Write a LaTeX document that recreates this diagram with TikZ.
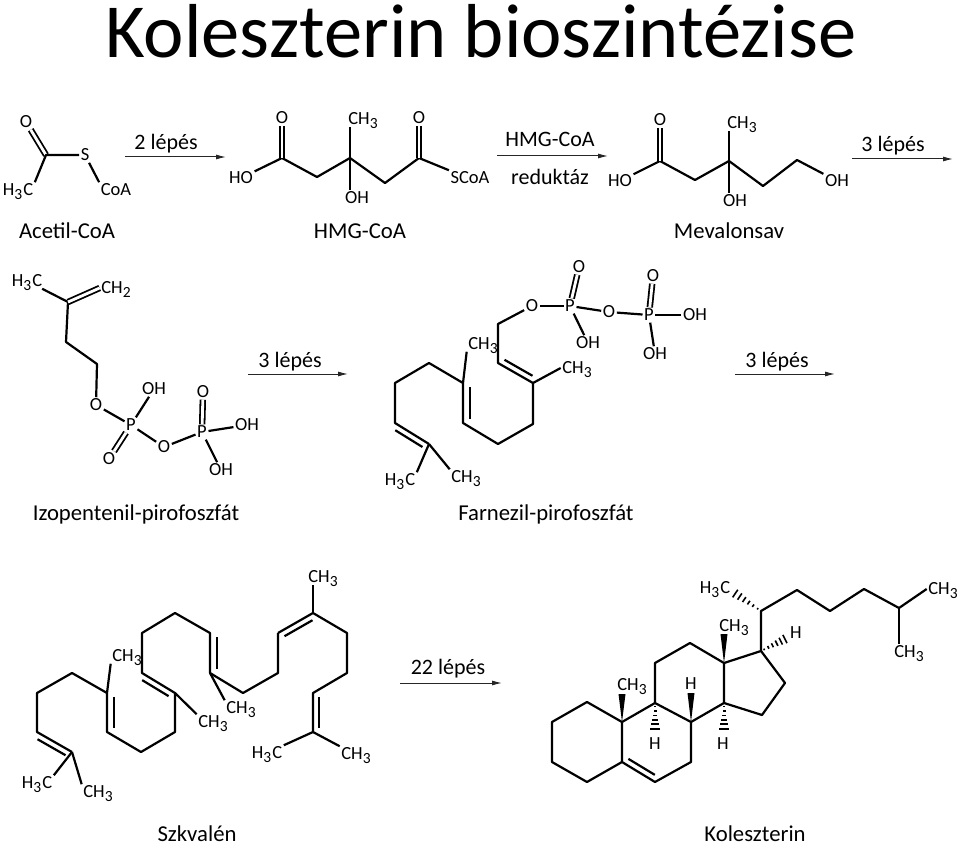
\documentclass[tikz,border=0pt]{standalone}
\usepackage{fontspec}
\usepackage{tikz}
\usetikzlibrary{calc,arrows.meta}
\setmainfont{Carlito}
\newcommand{\idx}[1]{\smash{\raisebox{-.4ex}{\fontsize{15.5}{15.5}\selectfont #1}}}
\newcommand{\innerbond}[3]{\draw[bond] ($(#1)!.1!(#2)!#3pt!90:(#2)$) -- ($(#1)!.9!(#2)!#3pt!90:(#2)$);}
\newcommand{\wedgebond}[2]{\fill ($(#2)!3.5pt!90:(#1)$) -- (#1) -- ($(#2)!3.5pt!-90:(#1)$) -- cycle;}
\newcommand{\hashbond}[2]{\foreach \t/\w in {.12/.8,.28/1.5,.44/2.2,.6/3,.76/3.8,.92/4.6}
	\draw[line width=1.6pt] ($(#1)!\t!(#2)!\w pt!90:(#2)$) -- ($(#1)!\t!(#2)!\w pt!-90:(#2)$);}
\tikzstyle{atom} = [inner sep=1.5pt, font=\fontsize{18.5}{18.5}\selectfont]
\tikzstyle{caption} = [inner sep=0pt, font=\fontsize{22.7}{22.7}\selectfont]
\tikzstyle{steplabel} = [inner sep=0pt, font=\fontsize{22}{22}\selectfont]
\tikzstyle{headline} = [inner sep=0pt, font=\fontsize{76.5}{76.5}\selectfont]
\tikzstyle{bond} = [line width=2.2pt, line join=round]
\tikzstyle{dbond} = [line width=1.8pt, double, double distance=2.8pt]
\tikzstyle{reaction} = [line width=1pt, draw=black!85, -{Latex[length=10pt,width=5pt]}]

\begin{document}
\begin{tikzpicture}[x=1pt,y=-1pt]
	\useasboundingbox (0,0) rectangle (959,845);
	\node[headline](title) at (481,31) {Koleszterin bioszintézise};

	\coordinate (acC) at (46,155);
	\node[atom](acO) at (26,122) {O};
	\node[atom](acS) at (85,155) {S};
	\node[atom](acM) at (18,190) {H\idx{3}\kern1pt C};
	\node[atom](acK) at (116,190) {CoA};
	\draw[dbond] (acC) -- (acO);
	\draw[bond] (acM.north east) -- (acC) -- (acS);
	\draw[bond] (acS) -- (acK.north west);
	\node[caption](acName) at (67,231) {Acetil-CoA};

	\coordinate (r1a) at (125,157);
	\coordinate (r1b) at (226,157);
	\draw[reaction] (r1a) -- (r1b);
	\node[steplabel](r1t) at (166,144) {2 lépés};

	\foreach \n/\x/\y in {hgA/282/158,hgB/317/177,hgC/350/158,hgD/385/183,hgE/419/158}
		\coordinate (\n) at (\x,\y);
	\node[atom](hgHO) at (241,178) {HO};
	\node[atom](hgO) at (282,118) {O};
	\node[atom](hgM) at (363,119) {CH\idx{3}};
	\node[atom](hgP) at (419,118) {O};
	\node[atom](hgOH) at (357,198) {OH};
	\node[atom](hgK) at (470,178) {SCoA};
	\draw[bond] (hgHO) -- (hgA) -- (hgB) -- (hgC) -- (hgD) -- (hgE) -- (hgK.north west);
	\draw[dbond] (hgA) -- (hgO);
	\draw[dbond] (hgE) -- (hgP);
	\draw[bond] (hgC) -- (hgM.south -| hgC);
	\draw[bond] (hgC) -- (hgOH.north -| hgC);
	\node[caption](hgName) at (360,231) {HMG-CoA};

	\coordinate (r2a) at (497,156);
	\coordinate (r2b) at (608,156);
	\draw[reaction] (r2a) -- (r2b);
	\node[steplabel](r2t) at (550,139) {HMG-CoA};
	\node[steplabel](r2u) at (550,177) {reduktáz};

	\foreach \n/\x/\y in {mvA/660/161,mvB/695/180,mvC/729/161,mvD/763/186,mvE/797/160}
		\coordinate (\n) at (\x,\y);
	\node[atom](mvHO) at (620,181) {HO};
	\node[atom](mvO) at (660,120) {O};
	\node[atom](mvM) at (742,123) {CH\idx{3}};
	\node[atom](mvOH) at (735,201) {OH};
	\node[atom](mvR) at (837,181) {OH};
	\draw[bond] (mvHO) -- (mvA) -- (mvB) -- (mvC) -- (mvD) -- (mvE) -- (mvR);
	\draw[dbond] (mvA) -- (mvO);
	\draw[bond] (mvC) -- (mvM.south -| mvC);
	\draw[bond] (mvC) -- (mvOH.north -| mvC);
	\node[caption](mvName) at (729,231) {Mevalonsav};

	\coordinate (r3a) at (852,159);
	\coordinate (r3b) at (953,159);
	\draw[reaction] (r3a) -- (r3b);
	\node[steplabel](r3t) at (893,146) {3 lépés};

	\foreach \n/\x/\y in {ipA/68/302,ipB/66/342,ipC/97/364}
		\coordinate (\n) at (\x,\y);
	\node[atom](ipM) at (27,281) {H\idx{3}\kern1pt C};
	\node[atom](ipE) at (116,288) {CH\idx{2}};
	\node[atom](ipO) at (96,405) {O};
	\node[atom](ipP) at (131,425) {P};
	\node[atom](ipOH) at (154,389) {OH};
	\node[atom](ipQ) at (109,459) {O};
	\node[atom](ipR) at (164,447) {O};
	\node[atom](ipS) at (202,432) {P};
	\node[atom](ipT) at (203,392) {O};
	\node[atom](ipU) at (247,425) {OH};
	\node[atom](ipV) at (221,470) {OH};
	\draw[bond] (ipM) -- (ipA) -- (ipB) -- (ipC) -- (ipO);
	\draw[dbond] (ipA) -- (ipE.west);
	\draw[bond] (ipO) -- (ipP);
	\draw[bond] (ipP) -- (ipOH);
	\draw[dbond] (ipP) -- (ipQ);
	\draw[bond] (ipP) -- (ipR);
	\draw[bond] (ipR) -- (ipS);
	\draw[dbond] (ipS) -- (ipT);
	\draw[bond] (ipS) -- (ipU);
	\draw[bond] (ipS) -- (ipV);
	\node[caption](ipName) at (136,514) {Izopentenil-pirofoszfát};

	\coordinate (r4a) at (248,374);
	\coordinate (r4b) at (348,374);
	\draw[reaction] (r4a) -- (r4b);
	\node[steplabel](r4t) at (290,362) {3 lépés};

	\foreach \n/\x/\y in {faA/498/324,faB/498/363,faC/533/383,faD/533/424,faE/498/444,faF/463/423,faG/463/383,faH/429/363,faI/395/383,faJ/395/423,faK/429/444}
		\coordinate (\n) at (\x,\y);
	\node[atom](faO) at (532,306) {O};
	\node[atom](faP) at (570,306) {P};
	\node[atom](faT) at (579,267) {O};
	\node[atom](faOH) at (588,343) {OH};
	\node[atom](faQ) at (609,312) {O};
	\node[atom](faS) at (649,315) {P};
	\node[atom](faU) at (653,276) {O};
	\node[atom](faR) at (695,315) {OH};
	\node[atom](faV) at (655,354) {OH};
	\node[atom](faM) at (483,344) {CH\idx{3}};
	\node[atom](faN) at (577,368) {CH\idx{3}};
	\node[atom](faX) at (400,480) {H\idx{3}\kern1pt C};
	\node[atom](faY) at (466,477) {CH\idx{3}};
	\draw[bond] (faO) -- (faA) -- (faB) -- (faC) -- (faD) -- (faE) -- (faF) -- (faG) -- (faH) -- (faI) -- (faJ) -- (faK);
	\innerbond{faB}{faC}{6}
	\innerbond{faG}{faF}{7}
	\innerbond{faJ}{faK}{-6}
	\draw[bond] (faO) -- (faP);
	\draw[dbond] (faP) -- (faT);
	\draw[bond] (faP) -- (faOH);
	\draw[bond] (faP) -- (faQ);
	\draw[bond] (faQ) -- (faS);
	\draw[dbond] (faS) -- (faU);
	\draw[bond] (faS) -- (faR);
	\draw[bond] (faS) -- (faV);
	\draw[bond] (faG) -- (faM.south west);
	\draw[bond] (faC) -- (faN.west);
	\draw[bond] (faK) -- (faX.north east);
	\draw[bond] (faK) -- (faY.north west);
	\node[caption](faName) at (546,514) {Farnezil-pirofoszfát};

	\coordinate (r5a) at (735,374);
	\coordinate (r5b) at (835,374);
	\draw[reaction] (r5a) -- (r5b);
	\node[steplabel](r5t) at (777,362) {3 lépés};

	\foreach \n/\x/\y in {sqA/313/613,sqB/347/633,sqC/347/673,sqD/313/693,sqE/313/732,sqF/278/633,sqG/278/673,sqH/243/693,sqI/210/673,sqJ/210/633,sqK/175/613,sqL/142/633,sqM/142/673,sqN/175/693,sqO/175/732,sqP/141/752,sqQ/107/732,sqR/107/693,sqS/72/673,sqT/37/693,sqU/37/732,sqV/72/752}
		\coordinate (\n) at (\x,\y);
	\node[atom](sqMa) at (323,577) {CH\idx{3}};
	\node[atom](sqMb) at (356,754) {CH\idx{3}};
	\node[atom](sqMc) at (267,753) {H\idx{3}\kern1pt C};
	\node[atom](sqMd) at (241,708) {CH\idx{3}};
	\node[atom](sqMe) at (213,722) {CH\idx{3}};
	\node[atom](sqMf) at (127,656) {CH\idx{3}};
	\node[atom](sqMg) at (37,783) {H\idx{3}\kern1pt C};
	\node[atom](sqMh) at (98,792) {CH\idx{3}};
	\draw[bond] (sqF) -- (sqA) -- (sqB) -- (sqC) -- (sqD) -- (sqE);
	\draw[bond] (sqF) -- (sqG) -- (sqH) -- (sqI) -- (sqJ) -- (sqK) -- (sqL) -- (sqM) -- (sqN) -- (sqO) -- (sqP) -- (sqQ) -- (sqR) -- (sqS) -- (sqT) -- (sqU) -- (sqV);
	\innerbond{sqA}{sqF}{6}
	\innerbond{sqD}{sqE}{6}
	\innerbond{sqJ}{sqI}{7}
	\innerbond{sqM}{sqN}{-6}
	\innerbond{sqR}{sqQ}{7}
	\innerbond{sqU}{sqV}{-6}
	\draw[bond] (sqA) -- (sqMa.south -| sqA);
	\draw[bond] (sqE) -- (sqMb.north west);
	\draw[bond] (sqE) -- (sqMc.north east);
	\draw[bond] (sqI) -- (sqMd.north west);
	\draw[bond] (sqN) -- (sqMe.north west);
	\draw[bond] (sqR) -- (sqMf.south west);
	\draw[bond] (sqV) -- (sqMg.north east);
	\draw[bond] (sqV) -- (sqMh.north west);
	\node[caption](sqName) at (197,834) {Szkvalén};

	\coordinate (r6a) at (400,683);
	\coordinate (r6b) at (502,683);
	\draw[reaction] (r6a) -- (r6b);
	\node[steplabel](r6t) at (448,669) {22 lépés};

	\foreach \n/\x/\y in {chA/552/722,chB/587/702,chC/622/722,chD/622/762,chE/587/782,chF/552/762,chG/655/703,chH/691/722,chI/691/762,chJ/655/782,chK/655/663,chL/690/643,chM/724/663,chN/724/703,chO/761/651,chP/785/683,chQ/762/715,chR/761/611,chS/797/590,chT/830/611,chU/864/589,chV/899/608}
		\coordinate (\n) at (\x,\y);
	\foreach \n/\x/\y in {wgA/622/694,wgB/724/634,wgC/691/693,hsA/655/731,hsB/724/731,hsC/733/592,hsD/787/638}
		\coordinate (\n) at (\x,\y);
	\node[atom](chMa) at (715,588) {H\idx{3}\kern1pt C};
	\node[atom](chMb) at (943,589) {CH\idx{3}};
	\node[atom](chMc) at (909,652) {CH\idx{3}};
	\node[atom](chMd) at (734,626) {CH\idx{3}};
	\node[atom](chMe) at (632,685) {CH\idx{3}};
	\node[atom](chHa) at (796,633) {H};
	\node[atom](chHb) at (691,684) {H};
	\node[atom](chHc) at (655,744) {H};
	\node[atom](chHd) at (723,744) {H};
	\draw[bond] (chC) -- (chB) -- (chA) -- (chF) -- (chE) -- (chD) -- (chC) -- (chG) -- (chH) -- (chI) -- (chJ) -- (chD);
	\draw[bond] (chG) -- (chK) -- (chL) -- (chM) -- (chN) -- (chH);
	\draw[bond] (chM) -- (chO) -- (chP) -- (chQ) -- (chN);
	\draw[bond] (chO) -- (chR) -- (chS) -- (chT) -- (chU) -- (chV) -- (chMb.west);
	\draw[bond] (chV) -- (chMc.north -| chV);
	\innerbond{chD}{chJ}{6}
	\wedgebond{chC}{wgA}
	\wedgebond{chM}{wgB}
	\wedgebond{chH}{wgC}
	\hashbond{chG}{hsA}
	\hashbond{chN}{hsB}
	\hashbond{chR}{hsC}
	\hashbond{chO}{hsD}
	\node[caption](chName) at (755,834) {Koleszterin};
\end{tikzpicture}
\end{document}
